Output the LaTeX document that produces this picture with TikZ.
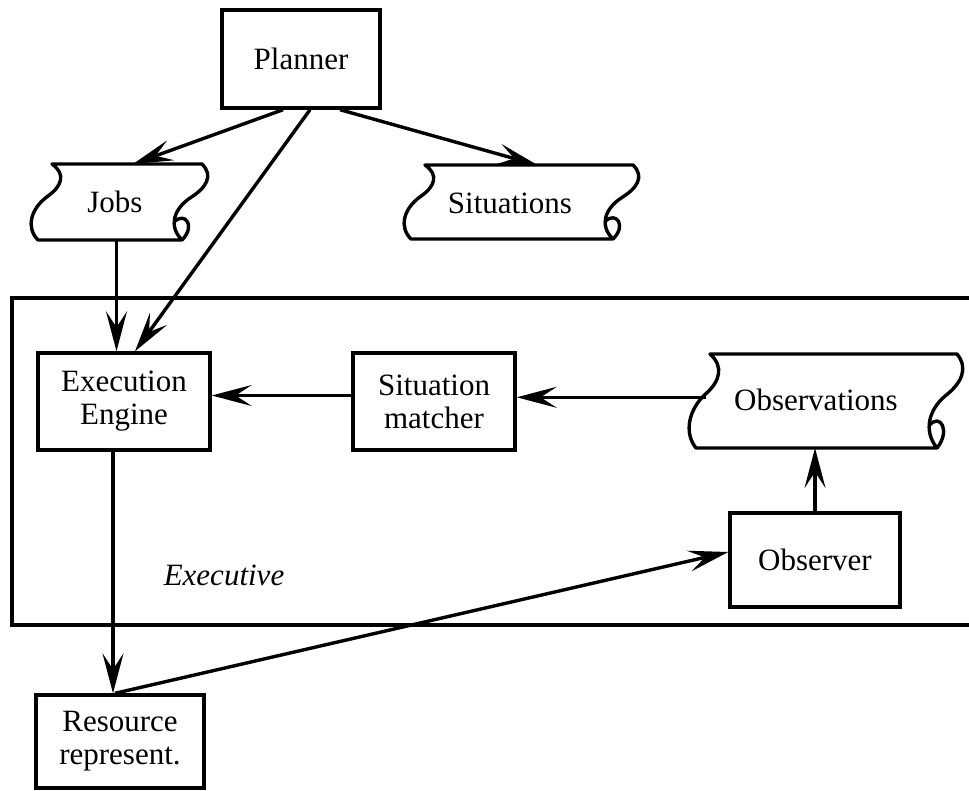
\documentclass[tikz,border=0pt]{standalone}
\usepackage{fontspec}
\setmainfont{Liberation Serif}
\usetikzlibrary{arrows.meta,calc}

% wavy "paper tape" outline around a text node:
% #1 node, #2/#3 offset of top-left corner from node centre, #4 width, #5 height
\newcommand\tapeoutline[5]{%
  \begin{scope}[shift={(#1.center)}, shift={(#2,#3)}, yscale={#5/76}]
    \draw[tapeline] (0,0) -- (#4,0)
      .. controls (#4+12,12) and (#4+4,24) .. (#4-12,34)
      .. controls (#4-28,45) and (#4-34,62) .. (#4-20,76)
      -- (-14,76)
      .. controls (-26,64) and (-22,45) .. (-4,32)
      .. controls (10,22) and (14,10) .. (0,0) -- cycle;
    \draw[tapeline] (#4-28,58) .. controls (#4-17,47) and (#4-6,62) .. (#4-20,76);
    \coordinate (#1-n) at ({0.54*#4},0);
    \coordinate (#1-s) at ({0.43*#4},76);
    \coordinate (#1-w) at (-4,35);
  \end{scope}}

\begin{document}
\begin{tikzpicture}[x=1pt,y=-1pt,
  every node/.style={font=\fontsize{31}{33}\selectfont, align=center},
  box/.style={draw, line width=3.4pt, inner sep=0pt},
  tapetext/.style={inner sep=0pt},
  tapeline/.style={line width=3.4pt, line join=round},
  frameline/.style={line width=3.4pt},
  arr/.style={line width=3.4pt, -{Stealth[length=40pt, width=21pt, inset=16pt]}}]
  \useasboundingbox[fill=white] (0,0) rectangle (969,790);

  % boxes
  \node[box, minimum width=158pt, minimum height=98pt] (planner) at (301,59) {Planner};
  \node[box, minimum width=172pt, minimum height=97pt] (ee) at (124,401.5) {Execution\\Engine};
  \node[box, minimum width=162pt, minimum height=97pt] (sm) at (434,401.5) {Situation\\matcher};
  \node[box, minimum width=170pt, minimum height=94pt] (observer) at (815,560) {Observer};
  \node[box, minimum width=168pt, minimum height=93pt] (res) at (120,741.5) {Resource\\represent.};

  % tapes
  \node[tapetext] (jobs) at (115,202) {Jobs};
  \tapeoutline{jobs}{-63}{-38}{150}{76}
  \node[tapetext] (sit) at (510,203) {Situations};
  \tapeoutline{sit}{-85}{-38}{208}{74}
  \node[tapetext] (obs) at (816,400) {Observations};
  \tapeoutline{obs}{-106}{-46}{247}{94}

  % executive frame (open to the right)
  \draw[frameline] (969,298) -- (12,298) -- (12,625) -- (969,625);
  \node[font=\fontsize{31}{33}\selectfont\itshape] (execlabel) at (224,575) {Executive};

  % connectors
  \draw[arr] ([xshift=-18pt]planner.south) -- (jobs-n);
  \draw[arr] ([xshift=39pt]planner.south) -- (sit-n);
  \draw[arr] ([xshift=9pt]planner.south) -- ([xshift=11pt]ee.north);
  \draw[arr] (jobs-s) -- (jobs-s |- ee.north);
  \draw[arr] (obs-w) -- (obs-w -| sm.east);
  \draw[arr] ([yshift=6pt]sm.west) -- ([yshift=6pt]sm.west -| ee.east);
  \draw[arr] (observer.north) -- (observer.north |- obs-s);
  \draw[arr] ([xshift=-11pt]ee.south) -- ([xshift=-11pt]ee.south |- res.north);
  \draw[arr] ([xshift=-5pt]res.north) -- ([yshift=8pt]observer.west);
\end{tikzpicture}
\end{document}
